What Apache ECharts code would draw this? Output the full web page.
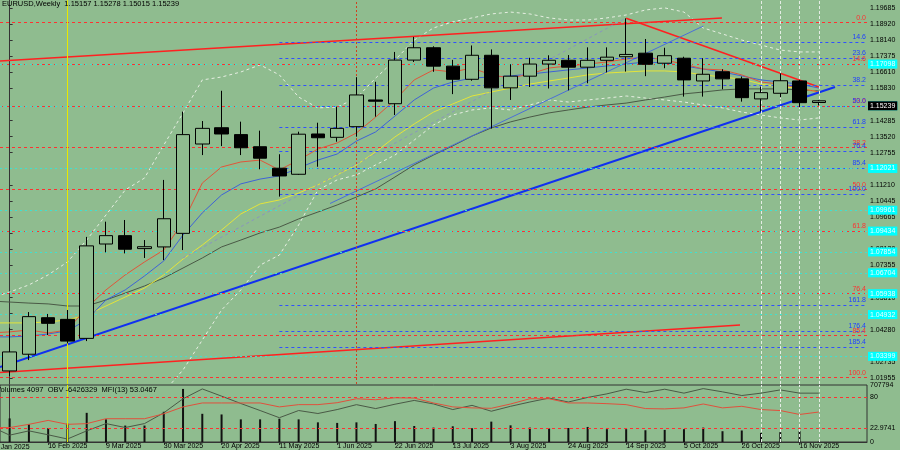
<!DOCTYPE html>
<html>
<head>
<meta charset="utf-8">
<script src="https://cdn.jsdelivr.net/npm/echarts@6/dist/echarts.min.js"></script>
<style>
html, body { margin: 0; padding: 0; background: #8fbc8f; }
#chart { width: 900px; height: 450px; }
</style>
</head>
<body>
<div id="chart"></div>
<script>
// weekly bars, 2 Feb 2025 .. 7 Dec 2025 (last two are empty future slots)
var weeks = ['2 Feb', '9 Feb', '16 Feb', '23 Feb', '2 Mar', '9 Mar', '16 Mar', '23 Mar', '30 Mar',
    '6 Apr', '13 Apr', '20 Apr', '27 Apr', '4 May', '11 May', '18 May', '25 May', '1 Jun', '8 Jun',
    '15 Jun', '22 Jun', '29 Jun', '6 Jul', '13 Jul', '20 Jul', '27 Jul', '3 Aug', '10 Aug', '17 Aug',
    '24 Aug', '31 Aug', '7 Sep', '14 Sep', '21 Sep', '28 Sep', '5 Oct', '12 Oct', '19 Oct', '26 Oct',
    '2 Nov', '9 Nov', '16 Nov', '23 Nov', '30 Nov', '7 Dec'];

// [open, close, low, high]
var ohlc = [
    [1.0230, 1.0321, 1.0206, 1.0437],
    [1.0310, 1.0490, 1.0282, 1.0512],
    [1.0485, 1.0458, 1.0402, 1.0503],
    [1.0477, 1.0373, 1.0362, 1.0522],
    [1.0386, 1.0829, 1.0373, 1.0872],
    [1.0838, 1.0878, 1.0798, 1.0945],
    [1.0878, 1.0813, 1.0793, 1.0953],
    [1.0816, 1.0825, 1.0771, 1.0857],
    [1.0824, 1.0959, 1.0761, 1.1145],
    [1.0889, 1.1362, 1.0809, 1.1472],
    [1.1317, 1.1392, 1.1264, 1.1427],
    [1.1395, 1.1365, 1.1307, 1.1572],
    [1.1362, 1.1299, 1.1264, 1.1424],
    [1.1304, 1.1249, 1.1196, 1.1381],
    [1.1201, 1.1164, 1.1065, 1.1268],
    [1.1172, 1.1364, 1.1169, 1.1376],
    [1.1365, 1.1347, 1.1208, 1.1419],
    [1.1349, 1.1392, 1.1328, 1.1496],
    [1.1400, 1.1552, 1.1352, 1.1637],
    [1.1528, 1.1522, 1.1448, 1.1615],
    [1.1510, 1.1719, 1.1456, 1.1758],
    [1.1719, 1.1778, 1.1710, 1.1830],
    [1.1778, 1.1690, 1.1663, 1.1785],
    [1.1690, 1.1627, 1.1556, 1.1720],
    [1.1627, 1.1742, 1.1620, 1.1789],
    [1.1742, 1.1586, 1.1391, 1.1770],
    [1.1586, 1.1642, 1.1528, 1.1699],
    [1.1642, 1.1700, 1.1590, 1.1730],
    [1.1700, 1.1718, 1.1583, 1.1742],
    [1.1718, 1.1685, 1.1574, 1.1743],
    [1.1685, 1.1718, 1.1608, 1.1780],
    [1.1718, 1.1733, 1.1660, 1.1780],
    [1.1735, 1.1746, 1.1664, 1.1919],
    [1.1752, 1.1699, 1.1642, 1.1820],
    [1.1704, 1.1740, 1.1680, 1.1778],
    [1.1728, 1.1624, 1.1544, 1.1735],
    [1.1619, 1.1651, 1.1544, 1.1728],
    [1.1663, 1.1629, 1.1579, 1.1675],
    [1.1629, 1.1539, 1.1520, 1.1640],
    [1.1533, 1.1563, 1.1472, 1.1592],
    [1.1560, 1.1620, 1.1541, 1.1656],
    [1.1619, 1.1515, 1.1493, 1.1624],
    [1.15157, 1.15239, 1.15015, 1.15278]
];

// indicator readings, first value is the 26 Jan week (just left of the frame)
var maRed = [1.0412, 1.0417, 1.0426, 1.0412, 1.0426, 1.0532, 1.0618, 1.0690, 1.0752, 1.0809, 1.0943, 1.1130,
    1.1207, 1.1231, 1.1240, 1.1193, 1.1240, 1.1293, 1.1322, 1.1370, 1.1446, 1.1528, 1.1624, 1.1672, 1.1662,
    1.1681, 1.1648, 1.1633, 1.1652, 1.1681, 1.1691, 1.1700, 1.1710, 1.1724, 1.1734, 1.1719, 1.1700, 1.1676,
    1.1672, 1.1648, 1.1614, 1.1604, 1.1585, 1.1566];
var maBlue = [1.0393, 1.0393, 1.0397, 1.0407, 1.0422, 1.0474, 1.0570, 1.0618, 1.0685, 1.0757, 1.0881, 1.0987,
    1.1073, 1.1126, 1.1149, 1.1164, 1.1202, 1.1240, 1.1269, 1.1331, 1.1375, 1.1451, 1.1528, 1.1585, 1.1614,
    1.1633, 1.1638, 1.1643, 1.1652, 1.1662, 1.1672, 1.1681, 1.1691, 1.1700, 1.1710, 1.1705, 1.1691, 1.1676,
    1.1662, 1.1643, 1.1624, 1.1614, 1.1604, 1.1585];
var maYellow = [1.0460, 1.0460, 1.0460, 1.0465, 1.0474, 1.0498, 1.0541, 1.0584, 1.0627, 1.0690, 1.0766, 1.0833,
    1.0905, 1.0982, 1.1030, 1.1049, 1.1082, 1.1121, 1.1169, 1.1217, 1.1279, 1.1351, 1.1413, 1.1470, 1.1509,
    1.1547, 1.1566, 1.1585, 1.1604, 1.1619, 1.1633, 1.1648, 1.1657, 1.1662, 1.1667, 1.1667, 1.1662, 1.1648,
    1.1638, 1.1628, 1.1604, 1.1590, 1.1585, 1.1566];
var maGray = [1.0565, 1.0560, 1.0555, 1.0551, 1.0541, 1.0541, 1.0570, 1.0603, 1.0637, 1.0675, 1.0723, 1.0771,
    1.0824, 1.0857, 1.0891, 1.0919, 1.0958, 1.0991, 1.1025, 1.1063, 1.1102, 1.1159, 1.1217, 1.1264, 1.1308,
    1.1355, 1.1394, 1.1423, 1.1446, 1.1466, 1.1480, 1.1494, 1.1504, 1.1513, 1.1528, 1.1542, 1.1557, 1.1566,
    1.1576, 1.1581, 1.1581, 1.1581, 1.1576, 1.1571];
var bandUpper = [1.0579, 1.0608, 1.0642, 1.0690, 1.0752, 1.0857, 1.0977, 1.1097, 1.1154, 1.1312, 1.1466, 1.1624,
    1.1638, 1.1662, 1.1696, 1.1648, 1.1542, 1.1490, 1.1494, 1.1537, 1.1633, 1.1719, 1.1815, 1.1873, 1.1902,
    1.1921, 1.1940, 1.1949, 1.1940, 1.1921, 1.1911, 1.1911, 1.1921, 1.1935, 1.1959, 1.1969, 1.1949, 1.1873,
    1.1844, 1.1815, 1.1791, 1.1767, 1.1758, 1.1758];
var bandLower = [null, null, null, null, null, null, null, null, null, 1.0129, 1.0235, 1.0378, 1.0522, 1.0618,
    1.0737, 1.0785, 1.0929, 1.1097, 1.1145, 1.1169, 1.1217, 1.1264, 1.1336, 1.1408, 1.1456, 1.1480, 1.1490,
    1.1480, 1.1504, 1.1528, 1.1518, 1.1528, 1.1537, 1.1547, 1.1537, 1.1528, 1.1518, 1.1504, 1.1490, 1.1470,
    1.1456, 1.1442, 1.1432, 1.1442];

var volumes = [293000, 220000, 171000, 228000, 362000, 281000, 204000, 204000, 375000, 659000, 350000,
    342000, 281000, 281000, 289000, 281000, 244000, 237000, 244000, 224000, 259000, 199000, 179000, 195000,
    171000, 253000, 207000, 179000, 167000, 174000, 187000, 159000, 159000, 146000, 150000, 159000, 179000,
    134000, 143000, 113000, 122000, 134000, 4097];
// OBV in millions, from the 26 Jan week
var obv = [-10.21, -11.22, -10.73, -11.18, -11.66, -10.73, -9.90, -10.35, -9.90, -8.67, -7.07, -5.95, -6.77,
    -7.61, -8.41, -9.23, -8.41, -8.75, -8.30, -7.74, -8.19, -7.69, -7.26, -7.66, -8.30, -7.82, -8.49, -7.93,
    -7.44, -6.99, -7.44, -6.92, -6.51, -5.98, -6.36, -5.98, -6.43, -5.91, -6.28, -6.70, -6.43, -6.06, -6.43, -6.43];
var mfi = [24.2, 24.2, 30.2, 37.5, 30.2, 31.5, 40.6, 40.6, 40.6, 49.7, 62.5, 69.8, 69.8, 69.8, 69.8, 62.5,
    66.7, 66.7, 70.3, 77.6, 75.8, 79.4, 78.9, 69.8, 62.5, 60.7, 59.9, 67.9, 77.6, 77.6, 69.8, 69.8, 68.5, 66.7,
    59.4, 58.8, 60.7, 67.9, 60.7, 63.6, 57.6, 55.7, 48.5, 53.0];

var priceTicks = [1.19685, 1.18920, 1.18140, 1.17375, 1.16610, 1.15830, 1.14285, 1.13520, 1.12755, 1.11210,
    1.10445, 1.09665, 1.08900, 1.08120, 1.07355, 1.05810, 1.05045, 1.04280, 1.02735, 1.01955];

var redFibNames = ['0.0', '14.6', '23.6', '38.2', '50.0', '61.8', '76.4', '85.4', '100.0'];
var redFibLevels = [1.19254, 1.16715, 1.15182, 1.12644, 1.10536, 1.08524, 1.06034, 1.04405, 1.01962];
var blueFibNames = ['14.6', '23.6', '38.2', '50.0', '61.8', '76.4', '85.4', '100.0', '161.8', '176.4', '185.4'];
var blueFibLevels = [1.18056, 1.17290, 1.15997, 1.14991, 1.13985, 1.12835, 1.12021, 1.10776, 1.05459, 1.04214, 1.03447];
var cyanLevels = [1.17098, 1.14895, 1.12021, 1.09961, 1.09434, 1.07854, 1.06704, 1.05938, 1.04932, 1.03399];
var lastPrice = 1.15239;

// trend lines: [bar number from 2 Feb, price]
var redUpper = [[-0.5, 1.1715], [36.97, 1.1921]];
var redDown = [[32, 1.1919], [42, 1.1590]];
var blueSupport = [[-0.5, 1.0249], [42.84, 1.1590]];
var redLower = [[-0.5, 1.0223], [37.91, 1.0450]];
var blueThin = [[16.63, 1.1032], [36, 1.1882]];
var dashedRay = [[9, 1.0771], [32, 1.1921]];

var font = 'Liberation Sans';
var bg = '#8fbc8f';
var dotted = [3, 3];

var myChart = echarts.init(document.getElementById('chart'));

// pair readings with bar numbers (26 Jan week = -1)
function withBars(arr) {
    return arr.map(function (v, k) { return [k - 1, v]; });
}

var levelLines = [];
redFibLevels.forEach(function (v, k) {
    levelLines.push({
        yAxis: v,
        lineStyle: { color: '#ff3030', type: dotted, width: 1 },
        label: { show: true, position: 'insideEndTop', formatter: redFibNames[k], color: '#ff3030', fontSize: 7, fontFamily: font, distance: 1 }
    });
});
blueFibLevels.forEach(function (v, k) {
    levelLines.push([
        {
            coord: [14, v],
            lineStyle: { color: '#3050ff', type: dotted, width: 1 },
            label: { show: true, position: 'insideEndTop', formatter: blueFibNames[k], color: '#2040ff', fontSize: 7, fontFamily: font, distance: 1 }
        },
        { coord: [44.5, v] }
    ]);
});
cyanLevels.forEach(function (v) {
    levelLines.push({
        yAxis: v,
        lineStyle: { color: '#40e0d0', type: [2, 3], width: 1 },
        label: { show: true, position: 'end', formatter: v.toFixed(5), color: '#e8ffff', backgroundColor: '#00ffff', fontSize: 7, fontFamily: font, padding: [1, 2], distance: 1 }
    });
});
// vertical markers
levelLines.push({ xAxis: 3, lineStyle: { color: '#e8e800', type: 'solid', width: 1 } });
levelLines.push({ xAxis: 18, lineStyle: { color: '#d04020', type: [2, 2], width: 1 } });
[39, 40, 41, 42].forEach(function (x) {
    levelLines.push({ xAxis: x, lineStyle: { color: '#e4ece4', type: [3, 2], width: 1 } });
});

function trend(data, color, width, type) {
    return {
        type: 'line', xAxisIndex: 2, yAxisIndex: 0, data: data,
        showSymbol: false, symbol: 'none', silent: true,
        lineStyle: { color: color, width: width, type: type || 'solid' }, z: 4
    };
}
function maLine(arr, color, type) {
    return {
        type: 'line', xAxisIndex: 2, yAxisIndex: 0, data: withBars(arr),
        showSymbol: false, symbol: 'none', silent: true, connectNulls: false,
        lineStyle: { color: color, width: 1, type: type || 'solid' }, z: 3
    };
}

var option = {
    backgroundColor: bg,
    animation: false,
    textStyle: { fontFamily: font },
    title: [
        { text: 'EURUSD,Weekly  1.15157 1.15278 1.15015 1.15239', left: 2, top: 0, padding: 0,
          textStyle: { fontSize: 7.5, fontWeight: 'normal', color: '#000', fontFamily: font } },
        { text: 'Volumes 4097  OBV -6426329  MFI(13) 53.0467', left: -4, top: 386, padding: 0,
          textStyle: { fontSize: 7.5, fontWeight: 'normal', color: '#000', fontFamily: font } },
        { text: '26 Jan 2025', left: -9, top: 444, padding: 0,
          textStyle: { fontSize: 7, fontWeight: 'normal', color: '#000', fontFamily: font } }
    ],
    grid: [
        { left: 0, width: 867, top: 0, height: 384, show: false },
        { left: 0, width: 867, top: 385, height: 58, show: true, borderColor: '#333', borderWidth: 1, backgroundColor: 'transparent' }
    ],
    xAxis: [
        { type: 'category', gridIndex: 0, data: weeks, boundaryGap: true, show: false },
        {
            type: 'category', gridIndex: 1, data: weeks, boundaryGap: true,
            axisLine: { lineStyle: { color: '#333' } },
            axisTick: { show: true, length: 3, alignWithLabel: true, lineStyle: { color: '#333' },
                interval: function (i) { return i % 3 === 2 && i <= 41; } },
            axisLabel: {
                interval: function (i) { return i % 3 === 2 && i <= 41; },
                formatter: function (v) { return v + ' 2025'; },
                align: 'left', margin: 1, color: '#000', fontSize: 7, fontFamily: font
            },
            splitLine: { show: false }
        },
        { type: 'value', gridIndex: 0, min: -0.5, max: 44.5, show: false },
        { type: 'value', gridIndex: 1, min: -0.5, max: 44.5, show: false }
    ],
    yAxis: [
        {
            type: 'value', gridIndex: 0, position: 'right', min: 1.01674, max: 1.20068, scale: true,
            axisLine: { show: true, lineStyle: { color: '#333' } },
            axisTick: { show: true, length: 3, customValues: priceTicks, lineStyle: { color: '#333' } },
            axisLabel: { customValues: priceTicks, formatter: function (v) { return v.toFixed(5); },
                margin: 3, color: '#000', fontSize: 7, fontFamily: font },
            splitLine: { show: false }
        },
        {
            type: 'value', gridIndex: 1, position: 'right', min: 0, max: 707794,
            axisLine: { show: true, lineStyle: { color: '#333' } },
            axisTick: { show: false },
            axisLabel: { customValues: [0, 707794], formatter: function (v) { return String(v); },
                margin: 3, color: '#000', fontSize: 7, fontFamily: font, verticalAlign: 'middle' },
            splitLine: { show: false }
        },
        {
            type: 'value', gridIndex: 1, position: 'right', min: -2.55, max: 103.1,
            axisLine: { show: false }, axisTick: { show: false },
            axisLabel: { customValues: [22.9741, 80], formatter: function (v) { return String(v); },
                margin: 3, color: '#000', fontSize: 7, fontFamily: font },
            splitLine: { show: false }
        },
        { type: 'value', gridIndex: 1, min: -12, max: -5.5, show: false }
    ],
    series: [
        maLine(bandUpper, '#e6eee2', dotted),
        maLine(bandLower, '#e6eee2', dotted),
        maLine(maGray, '#4a5946'),
        maLine(maYellow, '#e4e43a'),
        maLine(maBlue, '#3f63d6'),
        maLine(maRed, '#e0553a'),
        {
            type: 'line', xAxisIndex: 2, yAxisIndex: 0, data: [[-5, 1.1]], showSymbol: false, symbol: 'none',
            lineStyle: { width: 0 }, silent: true, z: 2,
            markLine: { symbol: 'none', silent: true, animation: false, label: { show: false }, data: levelLines }
        },
        {
            // last price tag on the price scale
            type: 'line', xAxisIndex: 2, yAxisIndex: 0, data: [[-5, 1.1]], showSymbol: false, symbol: 'none',
            lineStyle: { width: 0 }, silent: true, z: 12,
            markLine: {
                symbol: 'none', silent: true, animation: false,
                lineStyle: { color: 'rgba(0,0,0,0)', width: 1 },
                label: { show: true, position: 'end', formatter: lastPrice.toFixed(5), color: '#ffffff', backgroundColor: '#000000',
                    fontSize: 7, fontFamily: font, padding: [1, 2], distance: 1 },
                data: [{ yAxis: lastPrice }]
            }
        },
        trend(redUpper, '#ff2020', 1.5),
        trend(redDown, '#ff2020', 1.5),
        trend(redLower, '#ff2020', 1.5),
        trend(blueSupport, '#1030f0', 2),
        trend(blueThin, '#4a6fd8', 1),
        trend(dashedRay, '#8a94c0', 1, [3, 3]),
        {
            type: 'candlestick', xAxisIndex: 0, yAxisIndex: 0, data: ohlc, barWidth: 14, z: 10, silent: true,
            itemStyle: { color: bg, color0: '#000', borderColor: '#000', borderColor0: '#000', borderWidth: 1 }
        },
        {
            type: 'bar', xAxisIndex: 1, yAxisIndex: 1, data: volumes, barWidth: 2, silent: true,
            itemStyle: { color: '#111' },
            markLine: {
                symbol: 'none', silent: true, animation: false, label: { show: false },
                data: [
                    { xAxis: 3, lineStyle: { color: '#e8e800', type: 'solid', width: 1 } },
                    { xAxis: 39, lineStyle: { color: '#e4ece4', type: [3, 2], width: 1 } },
                    { xAxis: 40, lineStyle: { color: '#e4ece4', type: [3, 2], width: 1 } },
                    { xAxis: 41, lineStyle: { color: '#e4ece4', type: [3, 2], width: 1 } },
                    { xAxis: 42, lineStyle: { color: '#e4ece4', type: [3, 2], width: 1 } }
                ]
            }
        },
        {
            type: 'line', xAxisIndex: 3, yAxisIndex: 3, data: withBars(obv), showSymbol: false, symbol: 'none', silent: true,
            lineStyle: { color: '#4a5946', width: 1 }
        },
        {
            type: 'line', xAxisIndex: 3, yAxisIndex: 2, data: withBars(mfi), showSymbol: false, symbol: 'none', silent: true,
            lineStyle: { color: '#e0503c', width: 1 },
            markLine: {
                symbol: 'none', silent: true, animation: false, label: { show: false },
                lineStyle: { color: '#ff3030', type: dotted, width: 1 },
                data: [{ yAxis: 80 }, { yAxis: 22.9741 }]
            }
        }
    ]
};

option && myChart.setOption(option);

window.addEventListener('resize', function () {
    myChart.resize();
});
</script>
</body>
</html>
